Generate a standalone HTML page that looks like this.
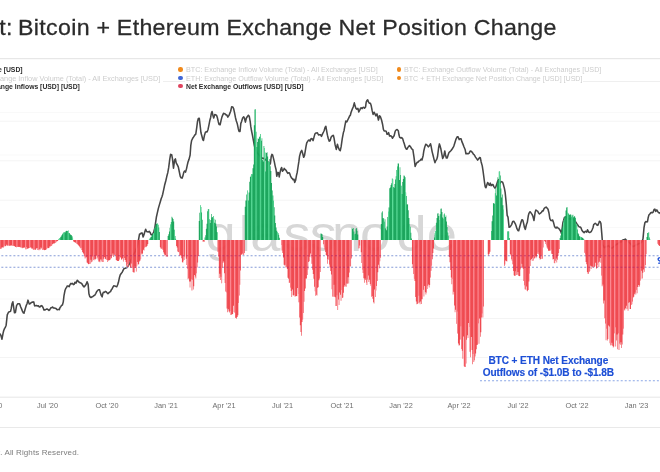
<!DOCTYPE html>
<html lang="en"><head><meta charset="utf-8"><title>Bitcoin + Ethereum Exchange Net Position Change</title>
<style>
html,body{margin:0;padding:0;background:#fff;}
body{width:660px;height:472px;position:relative;overflow:hidden;font-family:"Liberation Sans",sans-serif;}
#chart{position:absolute;left:0;top:0;width:660px;height:472px;overflow:visible;}
#wrap{position:absolute;left:-8px;top:-8px;width:676px;height:488px;overflow:hidden;filter:blur(0.55px);}
#in{position:absolute;left:8px;top:8px;width:660px;height:472px;}
.title{position:absolute;left:-2.2px;top:14.5px;font-size:22.4px;line-height:26px;color:#2b2b2b;white-space:nowrap;letter-spacing:0.3px;word-spacing:-0.15px;transform:scaleX(1.035);transform-origin:0 0;-webkit-text-stroke:0.28px #2b2b2b;}
.lg{position:absolute;font-size:7.2px;line-height:9px;white-space:nowrap;color:#cdcdcd;transform-origin:0 50%;}
.lg.on{color:#2b2b2b;font-weight:bold;transform:scaleX(0.947);}
.dot{position:absolute;width:4.4px;height:4.4px;border-radius:50%;}
.xl{position:absolute;top:400.4px;width:60px;text-align:center;font-size:7.35px;line-height:11px;color:#6e6e6e;white-space:nowrap;}
.note{position:absolute;left:468.3px;width:160px;text-align:center;font-size:10.1px;line-height:12px;font-weight:bold;color:#1d4fd6;white-space:nowrap;letter-spacing:-0.1px;-webkit-text-stroke:0.15px #1d4fd6;}
.note span{background:#fff;}
.foot{position:absolute;left:-2px;top:447.2px;font-size:8px;line-height:11px;color:#7c7c7c;white-space:nowrap;letter-spacing:0.1px;}
</style></head><body>
<div id="wrap"><div id="in">
<svg id="chart" width="660" height="472" viewBox="0 0 660 472">
<defs>
<clipPath id="hc"><path d="M-6.65,240.00V248.6H-6.00V248.7H-5.35V248.1H-4.70V248.8H-4.06V248.3H-3.41V248.6H-2.76V248.8H-2.11V248.4H-1.46V248.8H-0.82V248.5H-0.17V248.8H0.48V248.8H1.13V248.4H1.78V247.0H2.42V247.8H3.07V247.4H3.72V246.6H4.37V245.4H5.02V246.2H5.66V246.1H6.31V244.7H6.96V246.0H7.61V244.9H8.26V245.6H8.90V245.7H9.55V245.7H10.20V245.7H10.85V245.0H11.50V245.9H12.14V245.6H12.79V245.6H13.44V246.1H14.09V246.1H14.74V246.7H15.38V247.0H16.03V247.2H16.68V246.6H17.33V247.0H17.98V247.1H18.62V246.7H19.27V247.0H19.92V247.5H20.57V246.9H21.22V247.5H21.86V248.2H22.51V247.8H23.16V247.9H23.81V247.1H24.46V248.1H25.10V249.2H25.75V247.1H26.40V249.2H27.05V249.0H27.70V247.9H28.34V248.5H28.99V247.8H29.64V247.7H30.29V247.2H30.94V247.7H31.58V249.0H32.23V248.5H32.88V250.1H33.53V249.3H34.18V249.6H34.82V249.7H35.47V249.8H36.12V248.5H36.77V248.1H37.42V249.9H38.06V249.4H38.71V250.3H39.36V249.3H40.01V249.4H40.66V247.5H41.30V248.5H41.95V250.1H42.60V250.1H43.25V249.4H43.90V250.3H44.54V249.9H45.19V249.9H45.84V249.5H46.49V249.1H47.14V247.7H47.78V248.3H48.43V247.9H49.08V247.4H49.73V245.9H50.38V246.6H51.02V245.9H51.67V245.2H52.32V244.1H52.97V243.8H53.62V243.3H54.26V243.4H54.91V242.8H55.56V242.4H56.21V241.6H56.86V241.2H57.50V241.1H58.15V239.5H58.80V238.7H59.45V237.9H60.10V237.2H60.74V236.4H61.39V235.2H62.04V234.2H62.69V233.3H63.34V232.4H63.98V232.0H64.63V232.7H65.28V231.4H65.93V230.8H66.58V230.9H67.22V231.1H67.87V230.5H68.52V232.9H69.17V233.1H69.82V234.2H70.46V234.8H71.11V235.0H71.76V236.3H72.41V237.8H73.06V241.3H73.70V241.9H74.35V242.3H75.00V242.6H75.65V242.9H76.30V243.4H76.94V244.1H77.59V244.8H78.24V245.4H78.89V246.3H79.54V247.2H80.18V248.3H80.83V247.7H81.48V249.9H82.13V251.9H82.78V253.1H83.42V254.3H84.07V256.2H84.72V258.5H85.37V257.3H86.02V257.2H86.66V262.6H87.31V263.2H87.96V264.2H88.61V264.1H89.26V263.8H89.90V263.7H90.55V259.7H91.20V262.2H91.85V261.5H92.50V256.5H93.14V259.7H93.79V260.2H94.44V258.9H95.09V259.6H95.74V258.7H96.38V255.7H97.03V257.5H97.68V259.4H98.33V261.5H98.98V261.6H99.62V262.3H100.27V259.6H100.92V261.4H101.57V259.5H102.22V262.1H102.86V261.9H103.51V258.7H104.16V257.0H104.81V258.8H105.46V259.3H106.10V259.2H106.75V259.9H107.40V262.0H108.05V260.5H108.70V260.4H109.34V260.1H109.99V259.5H110.64V258.6H111.29V258.0H111.94V255.8H112.58V253.4H113.23V257.0H113.88V254.8H114.53V255.0H115.18V255.8H115.82V260.0H116.47V260.6H117.12V261.0H117.77V261.0H118.42V261.0H119.06V259.6H119.71V257.2H120.36V257.6H121.01V259.8H121.66V259.2H122.30V258.3H122.95V261.5H123.60V260.0H124.25V258.0H124.90V260.0H125.54V262.0H126.19V265.8H126.84V267.3H127.49V263.9H128.14V267.1H128.78V263.7H129.43V261.2H130.08V267.3H130.73V267.9H131.38V263.4H132.02V267.7H132.67V272.0H133.32V272.5H133.97V272.6H134.62V266.6H135.26V268.0H135.91V271.5H136.56V265.7H137.21V262.1H137.86V264.4H138.50V264.2H139.15V261.4H139.80V260.6H140.45V259.0H141.10V253.5H141.74V254.4H142.39V253.4H143.04V249.8H143.69V250.4H144.34V247.5H144.98V246.7H145.63V247.2H146.28V246.5H146.93V245.8H147.58V244.1H148.22V240.0H148.87V239.4H149.52V238.5H150.17V237.4H150.82V237.0H151.46V235.3H152.11V234.4H152.76V233.8H153.41V232.9H154.06V227.5H154.70V228.2H155.35V224.7H156.00V223.8H156.65V223.8H157.30V223.5H157.94V224.7H158.59V227.5H159.24V232.0H159.89V247.2H160.54V248.6H161.18V248.7H161.83V248.4H162.48V249.8H163.13V252.2H163.78V253.7H164.42V255.5H165.07V254.9H165.72V256.6H166.37V256.2H167.02V256.8H167.66V236.0H168.31V234.3H168.96V231.4H169.61V227.8H170.26V224.6H170.90V222.1H171.55V216.8H172.20V217.7H172.85V219.0H173.50V221.6H174.14V229.8H174.79V236.0H175.44V238.8H176.09V246.0H176.74V247.6H177.38V251.4H178.03V252.1H178.68V252.3H179.33V255.8H179.98V255.0H180.62V255.8H181.27V258.3H181.92V262.3H182.57V262.4H183.22V260.6H183.86V259.9H184.51V256.5H185.16V240.0H185.81V258.7H186.46V265.0H187.10V268.9H187.75V279.2H188.40V278.3H189.05V281.5H189.70V287.6H190.34V281.5H190.99V279.2H191.64V290.4H192.29V279.7H192.94V289.4H193.58V286.3H194.23V275.0H194.88V276.4H195.53V278.6H196.18V273.2H196.82V267.5H197.47V262.4H198.12V256.0H198.77V221.1H199.42V212.7H200.06V205.3H200.71V207.1H201.36V212.5H202.01V219.8H202.66V241.7H203.30V241.5H203.95V241.7H204.60V237.4H205.25V235.2H205.90V228.7H206.54V223.7H207.19V211.2H207.84V209.3H208.49V209.0H209.14V219.3H209.78V222.9H210.43V219.9H211.08V213.9H211.73V217.6H212.38V216.9H213.02V216.1H213.67V218.8H214.32V222.8H214.97V219.8H215.62V223.5H216.26V226.5H216.91V232.3H217.56V251.7H218.21V256.4H218.86V278.1H219.50V273.8H220.15V279.9H220.80V276.7H221.45V283.2H222.10V267.8H222.74V263.1H223.39V261.5H224.04V273.3H224.69V283.1H225.34V291.5H225.98V292.2H226.63V308.4H227.28V312.2H227.93V309.3H228.58V311.6H229.22V312.5H229.87V311.0H230.52V315.1H231.17V314.8H231.82V313.9H232.46V314.3H233.11V305.8H233.76V311.9H234.41V312.5H235.06V318.0H235.70V317.6H236.35V318.8H237.00V317.1H237.65V315.3H238.30V303.1H238.94V295.4H239.59V284.8H240.24V270.5H240.89V254.7H241.54V254.5H242.18V253.4H242.83V254.8H243.48V254.7H244.13V252.9H244.78V206.7H245.42V200.5H246.07V194.5H246.72V200.5H247.37V190.4H248.02V200.4H248.66V192.4H249.31V181.8H249.96V176.9H250.61V175.7H251.26V174.1H251.90V174.3H252.55V168.2H253.20V164.4H253.85V125.3H254.50V109.5H255.14V109.2H255.79V131.8H256.44V146.9H257.09V142.1H257.74V138.2H258.38V139.0H259.03V136.7H259.68V136.8H260.33V134.1H260.98V140.7H261.62V138.3H262.27V159.9H262.92V161.4H263.57V146.0H264.22V148.0H264.86V171.4H265.51V152.5H266.16V153.0H266.81V152.3H267.46V156.5H268.10V161.8H268.75V162.1H269.40V159.1H270.05V166.3H270.70V171.1H271.34V183.1H271.99V190.5H272.64V195.5H273.29V200.7H273.94V207.2H274.58V215.4H275.23V222.9H275.88V227.6H276.53V230.8H277.18V232.3H277.82V232.9H278.47V234.7H279.12V237.7H279.77V240.0H280.42V240.0H281.06V244.8H281.71V250.4H282.36V253.1H283.01V257.4H283.66V264.8H284.30V265.5H284.95V264.7H285.60V267.6H286.25V266.8H286.90V269.1H287.54V277.8H288.19V278.7H288.84V282.9H289.49V282.5H290.14V287.5H290.78V290.9H291.43V297.0H292.08V289.6H292.73V295.2H293.38V295.4H294.02V294.7H294.67V296.6H295.32V296.3H295.97V296.0H296.62V296.3H297.26V288.1H297.91V293.8H298.56V302.2H299.21V317.4H299.86V325.3H300.50V332.1H301.15V335.7H301.80V322.0H302.45V319.4H303.10V312.9H303.74V301.7H304.39V290.9H305.04V288.6H305.69V278.6H306.34V278.6H306.98V274.9H307.63V269.6H308.28V261.9H308.93V261.3H309.58V256.7H310.22V253.4H310.87V257.4H311.52V263.7H312.17V269.7H312.82V274.1H313.46V278.8H314.11V286.8H314.76V291.3H315.41V295.7H316.06V294.7H316.70V295.4H317.35V287.8H318.00V287.3H318.65V280.3H319.30V278.6H319.94V272.0H320.59V233.4H321.24V233.7H321.89V234.3H322.54V237.1H323.18V244.2H323.83V246.8H324.48V249.5H325.13V252.1H325.78V255.1H326.42V255.8H327.07V263.8H327.72V259.0H328.37V259.6H329.02V264.5H329.66V267.4H330.31V270.9H330.96V274.4H331.61V289.3H332.26V296.5H332.90V296.7H333.55V284.7H334.20V296.7H334.85V297.2H335.50V306.0H336.14V305.9H336.79V295.2H337.44V309.9H338.09V299.4H338.74V305.0H339.38V292.6H340.03V294.7H340.68V300.7H341.33V289.9H341.98V298.0H342.62V297.4H343.27V292.8H343.92V286.8H344.57V285.2H345.22V286.2H345.86V286.8H346.51V283.6H347.16V283.7H347.81V277.3H348.46V283.5H349.10V272.6H349.75V266.0H350.40V266.6H351.05V258.5H351.70V227.8H352.34V228.9H352.99V228.1H353.64V231.5H354.29V234.4H354.94V233.7H355.58V228.7H356.23V227.9H356.88V230.7H357.53V234.5H358.18V248.2H358.82V248.2H359.47V245.5H360.12V240.0H360.77V252.3H361.42V262.9H362.06V269.5H362.71V273.0H363.36V278.3H364.01V282.7H364.66V278.4H365.30V280.0H365.95V282.4H366.60V285.0H367.25V279.5H367.90V275.5H368.54V281.9H369.19V279.7H369.84V283.9H370.49V285.7H371.14V296.8H371.78V295.9H372.43V298.7H373.08V302.2H373.73V303.5H374.38V289.6H375.02V297.1H375.67V290.4H376.32V286.1H376.97V281.0H377.62V272.2H378.26V264.8H378.91V268.3H379.56V261.3H380.21V257.7H380.86V224.1H381.50V212.4H382.15V211.3H382.80V218.2H383.45V218.2H384.10V221.8H384.74V219.2H385.39V228.5H386.04V230.3H386.69V226.6H387.34V217.0H387.98V211.8H388.63V207.5H389.28V188.3H389.93V187.4H390.58V184.9H391.22V183.3H391.87V178.4H392.52V179.3H393.17V187.0H393.82V187.8H394.46V184.1H395.11V179.4H395.76V176.2H396.41V169.9H397.06V166.5H397.70V163.4H398.35V163.6H399.00V180.1H399.65V167.3H400.30V174.9H400.94V185.8H401.59V193.9H402.24V182.0H402.89V178.9H403.54V175.5H404.18V175.8H404.83V177.2H405.48V192.4H406.13V195.9H406.78V204.5H407.42V204.3H408.07V210.3H408.72V218.0H409.37V224.4H410.02V226.8H410.66V232.8H411.31V238.6H411.96V264.2H412.61V267.8H413.26V274.1H413.90V278.7H414.55V281.0H415.20V297.1H415.85V301.5H416.50V304.2H417.14V303.9H417.79V303.2H418.44V295.4H419.09V302.5H419.74V304.3H420.38V301.6H421.03V304.1H421.68V299.2H422.33V298.5H422.98V289.8H423.62V296.6H424.27V286.0H424.92V292.2H425.57V294.6H426.22V292.4H426.86V289.0H427.51V285.7H428.16V284.4H428.81V287.6H429.46V285.0H430.10V277.6H430.75V270.8H431.40V265.5H432.05V259.2H432.70V253.0H433.34V248.5H433.99V237.6H434.64V233.3H435.29V231.0H435.94V222.8H436.58V218.0H437.23V213.4H437.88V213.2H438.53V215.9H439.18V220.2H439.82V214.2H440.47V208.7H441.12V208.6H441.77V211.9H442.42V217.6H443.06V218.7H443.71V214.4H444.36V213.5H445.01V216.9H445.66V215.5H446.30V221.4H446.95V227.0H447.60V232.4H448.25V236.3H448.90V257.0H449.54V262.2H450.19V269.9H450.84V277.5H451.49V284.2H452.14V278.7H452.78V294.4H453.43V291.8H454.08V305.6H454.73V312.3H455.38V309.8H456.02V323.8H456.67V311.5H457.32V333.5H457.97V343.6H458.62V345.4H459.26V345.2H459.91V339.5H460.56V326.2H461.21V348.9H461.86V350.7H462.50V358.7H463.15V336.6H463.80V366.3H464.45V367.0H465.10V366.9H465.74V363.4H466.39V339.8H467.04V335.2H467.69V338.0H468.34V322.9H468.98V327.1H469.63V351.8H470.28V357.2H470.93V336.9H471.58V350.0H472.22V364.3H472.87V354.0H473.52V361.9H474.17V360.3H474.82V356.6H475.46V353.4H476.11V349.2H476.76V345.1H477.41V344.4H478.06V323.2H478.70V343.8H479.35V318.6H480.00V336.8H480.65V332.3H481.30V317.5H481.94V313.2H482.59V317.6H483.24V306.5H483.89V240.0H484.54V240.0H485.18V240.0H485.83V240.0H486.48V240.0H487.13V240.0H487.78V254.2H488.42V255.6H489.07V253.7H489.72V251.8H490.37V240.0H491.02V230.9H491.66V221.2H492.31V215.5H492.96V202.9H493.61V203.4H494.26V203.8H494.90V193.3H495.55V187.9H496.20V195.4H496.85V183.7H497.50V177.3H498.14V179.9H498.79V171.4H499.44V171.6H500.09V175.4H500.74V188.6H501.38V197.6H502.03V194.5H502.68V205.2H503.33V209.7H503.98V266.0H504.62V264.5H505.27V260.5H505.92V260.9H506.57V261.6H507.22V231.5H507.86V231.3H508.51V231.4H509.16V238.1H509.81V253.9H510.46V255.5H511.10V259.3H511.75V260.8H512.40V264.3H513.05V270.9H513.70V275.2H514.34V275.9H514.99V275.7H515.64V271.3H516.29V274.9H516.94V274.7H517.58V272.1H518.23V275.8H518.88V276.3H519.53V276.0H520.18V269.3H520.82V267.2H521.47V263.8H522.12V267.7H522.77V268.7H523.42V281.0H524.06V285.3H524.71V289.3H525.36V289.6H526.01V286.4H526.66V290.4H527.30V291.2H527.95V290.0H528.60V281.5H529.25V273.5H529.90V265.9H530.54V260.1H531.19V259.0H531.84V260.9H532.49V257.7H533.14V260.4H533.78V258.4H534.43V258.2H535.08V256.5H535.73V258.2H536.38V256.4H537.02V253.7H537.67V252.2H538.32V254.2H538.97V257.9H539.62V259.5H540.26V259.2H540.91V255.2H541.56V258.9H542.21V258.5H542.86V247.4H543.50V240.0H544.15V241.0H544.80V242.0H545.45V243.9H546.10V245.3H546.74V247.5H547.39V248.7H548.04V250.8H548.69V250.7H549.34V250.7H549.98V250.6H550.63V249.6H551.28V253.8H551.93V253.9H552.58V259.6H553.22V258.9H553.87V262.9H554.52V263.3H555.17V260.7H555.82V258.6H556.46V262.5H557.11V259.8H557.76V256.0H558.41V253.1H559.06V249.0H559.70V237.9H560.35V235.6H561.00V231.9H561.65V228.6H562.30V226.4H562.94V222.8H563.59V220.2H564.24V217.3H564.89V216.0H565.54V210.4H566.18V207.5H566.83V207.2H567.48V212.8H568.13V213.4H568.78V214.3H569.42V215.0H570.07V214.2H570.72V214.8H571.37V216.7H572.02V215.6H572.66V214.8H573.31V217.2H573.96V216.1H574.61V216.7H575.26V217.9H575.90V224.5H576.55V223.7H577.20V229.5H577.85V233.2H578.50V234.2H579.14V235.9H579.79V237.0H580.44V236.8H581.09V237.1H581.74V237.7H582.38V237.8H583.03V238.5H583.68V239.5H584.33V252.7H584.98V254.6H585.62V262.1H586.27V264.2H586.92V271.9H587.57V273.7H588.22V273.8H588.86V272.1H589.51V271.1H590.16V265.8H590.81V269.1H591.46V266.3H592.10V267.1H592.75V266.3H593.40V267.5H594.05V267.1H594.70V266.3H595.34V262.7H595.99V268.7H596.64V267.7H597.29V264.8H597.94V262.5H598.58V267.0H599.23V261.8H599.88V258.0H600.53V262.8H601.18V275.5H601.82V286.2H602.47V284.6H603.12V303.6H603.77V300.6H604.42V318.2H605.06V323.5H605.71V340.2H606.36V328.4H607.01V340.6H607.66V339.1H608.30V325.4H608.95V326.6H609.60V343.3H610.25V345.2H610.90V345.3H611.54V342.8H612.19V345.7H612.84V347.4H613.49V346.6H614.14V333.2H614.78V327.2H615.43V346.6H616.08V340.6H616.73V334.6H617.38V349.3H618.02V333.3H618.67V350.1H619.32V343.4H619.97V344.8H620.62V342.3H621.26V348.1H621.91V344.6H622.56V334.4H623.21V328.6H623.86V309.6H624.50V310.6H625.15V308.3H625.80V309.3H626.45V305.7H627.10V308.5H627.74V310.7H628.39V302.8H629.04V302.2H629.69V308.9H630.34V308.9H630.98V304.7H631.63V304.3H632.28V301.6H632.93V297.4H633.58V296.8H634.22V294.2H634.87V292.6H635.52V294.4H636.17V289.8H636.82V293.3H637.46V286.9H638.11V285.0H638.76V286.9H639.41V285.5H640.06V280.6H640.70V278.7H641.35V270.8H642.00V278.6H642.65V272.8H643.30V269.6H643.94V271.8H644.59V267.2H645.24V265.0H645.89V254.2H646.54V237.1H647.18V233.1H647.83V232.9H648.48V232.2H649.13V237.4H649.78V239.4H650.42V240.0H651.07V240.0H651.72V240.0H652.37V240.0H653.02V240.0H653.66V240.0H654.31V240.0H654.96V240.0H655.61V240.0H656.26V240.0H656.90V240.0H657.55V243.7H658.20V244.9H658.85V245.7H659.50V246.0H660.14V246.2H660.79V246.4H661.44V245.3H662.09V246.3H662.74V245.8H663.38V247.3H664.03V246.6H664.68V247.7H665.33V247.4H665.98V247.2H666.62V247.6H667.27V240.00Z"/></clipPath>
<linearGradient id="gr" gradientUnits="userSpaceOnUse" x1="0" y1="0" x2="0" y2="480">
<stop offset="0" stop-color="#14a357" stop-opacity="0.96"/><stop offset="0.50000" stop-color="#14a357" stop-opacity="0.96"/>
<stop offset="0.50000" stop-color="#ee3d44" stop-opacity="0.93"/><stop offset="1" stop-color="#ee3d44" stop-opacity="0.93"/>
</linearGradient>
<clipPath id="up"><rect x="-8" y="0" width="676" height="240.0"/></clipPath>
<clipPath id="dn"><rect x="-8" y="240.0" width="676" height="240"/></clipPath>
<pattern id="st" x="-0.7" y="0" width="4.27" height="480" patternUnits="userSpaceOnUse"><rect x="0" y="0" width="1.15" height="240.0" fill="#66e6a3" fill-opacity="0.9"/><rect x="0" y="240.0" width="1.15" height="240" fill="#ff97a1" fill-opacity="0.92"/></pattern>
</defs>
<rect x="-8" y="-8" width="676" height="488" fill="#fff"/>
<line x1="-8" x2="668" y1="58.7" y2="58.7" stroke="#e2e2e2" stroke-width="1"/>
<line x1="-8" x2="668" y1="121.2" y2="121.2" stroke="#f4f4f4" stroke-width="1"/><line x1="-8" x2="668" y1="160.8" y2="160.8" stroke="#f4f4f4" stroke-width="1"/><line x1="-8" x2="668" y1="200.2" y2="200.2" stroke="#f4f4f4" stroke-width="1"/><line x1="-8" x2="668" y1="279.5" y2="279.5" stroke="#f4f4f4" stroke-width="1"/><line x1="-8" x2="668" y1="318.5" y2="318.5" stroke="#f4f4f4" stroke-width="1"/><line x1="-8" x2="668" y1="357.5" y2="357.5" stroke="#f4f4f4" stroke-width="1"/><line x1="-8" x2="668" y1="112.5" y2="112.5" stroke="#f9f9f9" stroke-width="1"/><line x1="-8" x2="668" y1="155" y2="155" stroke="#f9f9f9" stroke-width="1"/><line x1="-8" x2="668" y1="227.5" y2="227.5" stroke="#f9f9f9" stroke-width="1"/><line x1="-8" x2="668" y1="299" y2="299" stroke="#f9f9f9" stroke-width="1"/>
<path d="M163,81.5H185M583,81.5H668" stroke="#efefef" stroke-width="1" fill="none"/>
<line x1="-8" x2="668" y1="397.2" y2="397.2" stroke="#e6e6e6" stroke-width="1"/>
<line x1="-8" x2="668" y1="427.5" y2="427.5" stroke="#e9e9e9" stroke-width="1"/>
<text transform="translate(205.5,250.5) scale(1.085,1)" x="0 30.6 41.2 71.8 96.2 116.5 142.5 176 204" font-family="Liberation Sans, sans-serif" font-size="50" fill="#d7d7d7">glassnode</text>
<path d="M-6.00,341.30 L-5.08,340.20 L-4.12,339.18 L-3.45,337.68 L-2.37,336.48 L-1.62,336.21 L-0.73,334.87 L0.16,333.99 L0.87,335.31 L1.97,339.19 L3.00,333.65 L3.66,330.74 L4.61,328.38 L5.26,327.56 L6.14,325.20 L7.25,314.90 L8.37,312.45 L9.44,311.72 L10.57,311.38 L11.25,308.43 L12.00,303.80 L12.87,301.75 L13.66,307.27 L14.50,312.80 L15.44,312.46 L16.56,305.56 L17.69,303.87 L18.86,303.68 L19.58,303.66 L20.73,306.96 L21.66,309.13 L22.41,311.11 L23.35,312.90 L24.01,313.13 L25.18,308.96 L26.24,305.45 L26.95,304.01 L28.00,300.13 L28.65,302.22 L29.30,304.02 L30.11,303.68 L31.27,302.67 L32.44,302.01 L33.11,302.30 L33.76,301.90 L34.61,305.85 L35.32,305.69 L36.42,305.41 L37.57,305.99 L38.41,305.82 L39.32,306.92 L40.27,306.70 L41.23,305.64 L42.14,305.99 L43.16,307.86 L43.95,310.08 L44.86,309.88 L45.50,309.75 L46.44,309.01 L47.40,309.14 L48.06,309.59 L48.95,310.35 L49.77,309.75 L50.79,307.73 L51.46,307.78 L52.61,306.99 L53.48,307.94 L54.29,308.10 L55.09,308.30 L56.04,308.52 L56.87,309.57 L57.51,309.82 L58.54,309.36 L59.29,309.63 L60.05,307.46 L60.92,306.40 L61.60,305.34 L62.41,304.94 L63.28,301.87 L64.00,295.53 L64.98,290.50 L65.85,288.23 L66.55,287.55 L67.28,285.93 L68.37,286.10 L69.15,286.67 L70.12,284.53 L70.94,283.35 L71.73,283.85 L72.50,283.41 L73.36,284.64 L74.21,284.24 L74.92,282.21 L76.06,283.09 L77.23,280.26 L78.37,281.34 L79.12,282.26 L80.20,282.72 L81.11,283.10 L81.93,283.86 L82.59,285.01 L83.38,286.24 L84.03,286.88 L85.04,285.90 L86.15,284.28 L87.09,281.71 L88.12,284.38 L88.92,293.80 L89.83,296.71 L90.97,297.51 L91.78,296.99 L92.88,296.59 L93.93,295.41 L94.67,295.45 L95.74,293.58 L96.79,291.43 L97.86,290.26 L98.49,289.73 L99.59,289.85 L100.37,292.62 L101.28,295.43 L102.17,296.83 L102.80,293.49 L103.49,292.19 L104.16,292.56 L105.25,291.41 L106.15,291.78 L106.95,292.77 L107.93,293.66 L108.76,292.85 L109.57,292.20 L110.50,291.59 L111.33,289.86 L112.06,288.96 L113.01,286.98 L113.85,285.79 L114.82,285.90 L115.65,286.38 L116.66,286.81 L117.66,284.78 L118.42,282.35 L119.43,277.54 L120.29,274.79 L121.39,273.19 L122.23,272.32 L123.28,269.84 L124.16,268.51 L125.23,268.19 L126.34,267.80 L127.33,267.26 L128.27,265.89 L129.21,264.05 L129.92,262.53 L130.58,260.33 L131.26,259.61 L131.99,257.15 L133.07,254.98 L134.16,253.36 L135.24,251.38 L136.18,248.97 L136.83,247.38 L137.74,244.31 L138.42,240.27 L139.56,233.90 L140.36,233.90 L141.44,232.91 L142.17,233.04 L143.13,236.96 L143.97,234.75 L144.82,231.79 L145.67,229.35 L146.57,231.52 L147.43,231.86 L148.14,232.02 L149.18,231.32 L150.09,232.43 L151.07,234.57 L151.78,234.81 L152.81,234.15 L153.72,232.01 L154.74,228.27 L155.51,223.10 L156.46,216.73 L157.22,213.42 L158.36,208.36 L159.37,204.86 L160.46,201.22 L161.24,198.58 L161.88,196.97 L162.72,194.20 L163.54,190.41 L164.59,185.29 L165.75,180.97 L166.71,176.81 L167.79,172.64 L168.72,167.44 L169.74,159.32 L170.58,154.38 L171.73,154.82 L172.49,158.92 L173.50,168.25 L174.65,159.92 L175.41,158.87 L176.18,162.80 L177.19,164.73 L178.31,166.80 L179.41,172.27 L180.26,176.44 L180.94,177.70 L182.02,178.16 L182.84,176.14 L183.84,172.13 L184.65,170.96 L185.54,172.16 L186.49,168.86 L187.33,164.86 L188.02,162.01 L189.01,159.37 L190.12,154.97 L190.80,145.44 L191.64,140.47 L192.67,138.31 L193.67,136.90 L194.73,135.13 L195.77,134.12 L196.77,127.33 L197.46,121.80 L198.28,118.61 L199.27,118.30 L200.00,124.32 L200.97,132.81 L202.08,136.72 L202.78,139.64 L203.49,140.45 L204.50,135.15 L205.43,132.14 L206.31,131.80 L207.04,131.93 L208.05,129.43 L208.98,124.94 L209.80,120.53 L210.64,117.49 L211.29,113.60 L212.05,111.49 L212.88,115.15 L213.72,117.90 L214.77,114.46 L215.86,114.91 L216.63,115.44 L217.32,117.48 L218.35,121.92 L219.08,124.45 L220.11,124.71 L221.14,120.07 L221.85,117.33 L222.59,115.39 L223.52,113.31 L224.29,113.70 L224.94,113.78 L226.05,114.89 L226.88,115.10 L227.83,117.09 L228.99,115.41 L229.78,113.38 L230.67,111.22 L231.69,106.68 L232.74,106.91 L233.63,108.54 L234.51,112.59 L235.43,117.44 L236.33,120.94 L237.20,123.43 L238.35,128.95 L239.05,131.37 L240.02,131.42 L240.84,123.38 L241.51,121.69 L242.64,118.08 L243.75,116.79 L244.45,118.26 L245.40,122.19 L246.42,118.00 L247.23,116.80 L248.37,115.24 L249.23,116.25 L250.13,121.02 L250.78,126.39 L251.52,130.77 L252.42,135.20 L253.34,140.20 L254.32,145.43 L255.20,148.97 L256.04,150.16 L257.16,152.87 L257.99,153.63 L258.90,155.07 L259.65,155.43 L260.40,156.95 L261.10,157.34 L261.84,157.83 L262.56,158.39 L263.28,158.25 L263.97,158.62 L264.87,158.90 L265.51,159.72 L266.36,160.54 L267.02,160.68 L267.86,161.86 L269.01,164.08 L269.69,164.76 L270.41,163.30 L271.23,156.41 L271.89,154.39 L272.67,155.17 L273.55,158.68 L274.34,161.94 L275.11,165.86 L276.08,169.71 L276.76,176.28 L277.92,172.38 L278.55,172.90 L279.23,176.94 L279.88,173.18 L280.86,169.09 L281.60,167.55 L282.49,171.20 L283.61,170.05 L284.26,168.39 L285.22,169.64 L285.90,170.13 L286.98,172.01 L287.83,173.36 L288.82,172.70 L289.55,173.23 L290.57,176.03 L291.50,177.87 L292.33,178.62 L293.08,179.77 L293.97,179.26 L294.69,182.45 L295.65,180.24 L296.49,175.35 L297.20,172.46 L297.84,168.25 L298.88,161.47 L299.57,156.16 L300.65,152.20 L301.76,150.43 L302.63,153.22 L303.65,157.26 L304.48,155.74 L305.33,150.68 L306.02,146.38 L306.71,142.98 L307.69,141.31 L308.34,140.33 L309.32,140.11 L309.96,141.11 L311.11,138.63 L312.04,138.65 L313.10,140.66 L314.15,136.64 L314.88,134.10 L315.56,133.30 L316.25,132.99 L317.40,132.77 L318.51,135.00 L319.39,134.75 L320.47,134.72 L321.45,136.37 L322.55,133.88 L323.50,131.98 L324.19,130.47 L325.14,127.21 L325.89,126.32 L326.77,131.64 L327.44,135.16 L328.33,138.74 L329.26,141.16 L330.12,140.56 L331.07,137.25 L331.89,136.18 L332.70,135.61 L333.38,135.40 L334.10,138.42 L335.12,144.89 L336.28,149.38 L337.42,144.27 L338.27,147.37 L339.39,149.82 L340.28,150.65 L341.13,146.64 L342.26,138.72 L343.39,132.64 L344.07,130.46 L344.86,125.99 L345.84,120.97 L346.87,121.85 L347.73,120.00 L348.77,117.94 L349.55,116.12 L350.34,115.24 L351.01,112.45 L352.06,109.67 L353.21,106.95 L354.32,102.83 L355.03,105.86 L355.91,108.35 L356.84,109.23 L357.93,108.38 L358.81,111.95 L359.87,109.89 L360.63,108.08 L361.27,107.72 L362.19,108.59 L362.90,107.41 L363.65,107.38 L364.53,108.13 L365.58,106.92 L366.23,101.96 L366.87,100.56 L367.68,99.76 L368.60,102.12 L369.40,103.22 L370.47,103.39 L371.24,105.81 L372.10,110.43 L373.09,114.43 L374.16,112.23 L374.86,113.63 L375.92,115.90 L377.00,113.92 L377.78,117.06 L378.42,120.10 L379.53,115.80 L380.41,116.65 L381.55,119.97 L382.50,123.97 L383.41,129.45 L384.14,131.00 L385.31,131.03 L386.16,131.15 L387.03,134.33 L387.91,133.96 L388.62,132.64 L389.53,135.99 L390.62,135.66 L391.75,136.79 L392.40,138.25 L393.33,136.78 L394.11,135.75 L395.23,131.11 L396.22,129.86 L397.13,129.52 L398.28,130.70 L399.01,135.06 L399.74,137.41 L400.82,138.02 L401.60,137.60 L402.74,138.86 L403.58,141.66 L404.28,143.81 L405.44,147.66 L406.19,148.94 L406.86,149.27 L407.90,147.37 L408.87,146.17 L409.50,145.63 L410.65,146.90 L411.42,148.44 L412.20,149.27 L412.85,149.62 L414.00,157.07 L415.12,166.40 L416.29,163.66 L417.27,162.32 L417.92,162.39 L418.65,161.13 L419.72,160.73 L420.38,160.10 L421.30,159.06 L421.99,160.05 L423.15,155.46 L423.85,150.69 L424.55,147.85 L425.67,144.38 L426.41,144.51 L427.58,145.84 L428.34,146.81 L429.48,145.72 L430.49,143.73 L431.13,146.28 L432.17,151.84 L433.10,155.55 L434.02,159.34 L434.94,162.65 L435.68,160.82 L436.82,159.16 L437.54,156.50 L438.63,147.74 L439.40,143.89 L440.06,145.83 L440.91,149.03 L441.60,152.82 L442.70,158.51 L443.87,155.83 L444.78,150.95 L445.46,154.72 L446.33,157.97 L447.28,157.86 L448.19,154.84 L448.99,152.53 L449.94,151.70 L451.08,150.51 L452.16,149.02 L453.32,147.08 L454.01,145.57 L455.04,142.16 L456.02,139.06 L457.17,136.84 L458.06,136.67 L459.16,139.58 L460.07,138.78 L461.04,138.75 L461.90,141.66 L462.95,144.13 L464.04,147.06 L465.20,149.82 L465.94,153.83 L467.05,153.49 L468.15,153.70 L468.98,153.35 L469.88,151.52 L470.71,151.00 L471.81,151.77 L472.52,152.73 L473.35,154.18 L474.06,154.56 L474.86,155.91 L475.51,157.09 L476.63,158.63 L477.66,160.12 L478.74,158.85 L479.61,157.42 L480.31,157.64 L481.14,161.94 L482.25,165.85 L482.99,170.65 L483.94,177.73 L484.58,182.76 L485.22,186.78 L485.95,187.75 L486.79,185.00 L487.65,182.44 L488.64,184.20 L489.32,185.31 L490.32,183.17 L491.19,185.63 L492.36,184.63 L492.99,184.60 L493.85,186.62 L494.93,188.15 L495.78,187.09 L496.89,183.73 L497.73,181.01 L498.71,179.56 L499.84,183.35 L500.78,182.23 L501.54,181.65 L502.63,182.17 L503.41,184.58 L504.40,188.33 L505.14,192.45 L506.26,203.48 L507.17,215.38 L508.00,217.18 L509.12,227.31 L510.15,226.84 L510.81,225.85 L511.61,224.62 L512.71,221.51 L513.78,221.26 L514.48,222.33 L515.32,223.84 L516.05,225.75 L516.95,228.68 L518.04,230.75 L518.70,230.73 L519.54,227.47 L520.31,224.72 L521.31,221.28 L522.00,219.68 L522.87,220.42 L523.63,223.38 L524.38,227.08 L525.34,229.33 L526.37,224.78 L527.29,222.33 L528.26,216.06 L528.92,213.41 L530.02,211.73 L530.96,212.84 L532.08,214.35 L532.83,216.09 L533.99,220.46 L535.16,212.26 L535.88,210.02 L536.70,210.62 L537.64,211.09 L538.56,213.03 L539.44,213.92 L540.54,213.14 L541.44,212.29 L542.51,210.78 L543.19,210.86 L544.12,208.57 L545.23,207.43 L546.15,207.14 L547.24,208.29 L548.02,209.24 L549.02,213.25 L549.84,218.71 L550.77,220.43 L551.78,220.61 L552.62,219.95 L553.55,222.58 L554.57,226.60 L555.41,227.67 L556.26,227.97 L556.95,227.08 L557.84,227.86 L558.74,228.41 L559.43,229.21 L560.56,230.96 L561.47,233.56 L562.13,228.81 L562.93,222.40 L563.62,220.23 L564.51,217.17 L565.28,217.15 L566.01,217.15 L566.92,217.27 L567.67,218.54 L568.73,218.99 L569.84,218.85 L570.85,219.23 L571.61,218.73 L572.76,218.98 L573.80,219.66 L574.79,220.62 L575.70,221.85 L576.80,223.63 L577.70,224.92 L578.56,226.28 L579.33,226.98 L580.28,227.09 L580.93,227.69 L581.91,230.32 L582.95,231.65 L584.09,232.63 L585.12,231.44 L585.77,231.33 L586.80,232.10 L587.54,229.76 L588.70,232.06 L589.59,232.50 L590.30,232.19 L591.29,231.52 L592.01,229.98 L592.98,227.72 L593.68,224.57 L594.36,223.95 L595.20,223.21 L596.37,224.30 L597.14,225.16 L597.77,225.37 L598.78,223.10 L599.42,221.35 L600.23,221.80 L600.92,223.47 L601.76,233.39 L602.63,244.52 L603.43,245.94 L604.31,247.69 L605.12,247.19 L605.98,246.63 L606.78,246.71 L607.70,246.28 L608.49,245.58 L609.13,246.32 L609.87,247.04 L610.64,247.75 L611.60,248.28 L612.62,247.77 L613.49,246.81 L614.15,246.71 L615.05,245.23 L616.18,244.73 L617.15,243.83 L617.84,243.99 L618.57,242.94 L619.73,242.03 L620.63,241.87 L621.40,241.86 L622.25,240.38 L623.14,239.78 L624.15,239.97 L625.27,239.05 L626.26,240.13 L627.15,240.86 L627.94,241.36 L628.91,242.18 L630.06,243.29 L631.21,244.58 L631.89,245.81 L632.80,246.75 L633.71,246.20 L634.38,245.91 L635.29,245.74 L635.92,244.53 L636.92,244.89 L637.78,244.25 L638.71,243.62 L639.59,243.54 L640.24,243.03 L641.27,242.64 L642.15,241.08 L642.97,239.07 L644.01,227.67 L644.89,222.76 L645.70,221.58 L646.46,221.89 L647.42,221.78 L648.15,217.80 L648.88,215.10 L649.65,214.18 L650.58,212.98 L651.44,212.40 L652.47,212.68 L653.30,211.84 L654.07,209.40 L654.83,209.14 L655.78,211.35 L656.81,209.91 L657.85,211.74 L658.69,212.76 L659.55,212.85 L660.39,213.55 L661.41,213.99 L662.14,214.09 L663.21,214.09 L664.36,213.71 L665.41,214.64" fill="none" stroke="#464646" stroke-width="1.55" stroke-linejoin="round" stroke-linecap="round"/>
<line x1="-8" x2="668" y1="255.8" y2="255.8" stroke="#869cd8" stroke-width="1.1" stroke-dasharray="2 2.02" stroke-dashoffset="-1.3"/>
<line x1="-8" x2="668" y1="267.3" y2="267.3" stroke="#869cd8" stroke-width="1.1" stroke-dasharray="2 2.02" stroke-dashoffset="-1.3"/>
<path d="M-6.65,240.00V248.6H-6.00V248.7H-5.35V248.1H-4.70V248.8H-4.06V248.3H-3.41V248.6H-2.76V248.8H-2.11V248.4H-1.46V248.8H-0.82V248.5H-0.17V248.8H0.48V248.8H1.13V248.4H1.78V247.0H2.42V247.8H3.07V247.4H3.72V246.6H4.37V245.4H5.02V246.2H5.66V246.1H6.31V244.7H6.96V246.0H7.61V244.9H8.26V245.6H8.90V245.7H9.55V245.7H10.20V245.7H10.85V245.0H11.50V245.9H12.14V245.6H12.79V245.6H13.44V246.1H14.09V246.1H14.74V246.7H15.38V247.0H16.03V247.2H16.68V246.6H17.33V247.0H17.98V247.1H18.62V246.7H19.27V247.0H19.92V247.5H20.57V246.9H21.22V247.5H21.86V248.2H22.51V247.8H23.16V247.9H23.81V247.1H24.46V248.1H25.10V249.2H25.75V247.1H26.40V249.2H27.05V249.0H27.70V247.9H28.34V248.5H28.99V247.8H29.64V247.7H30.29V247.2H30.94V247.7H31.58V249.0H32.23V248.5H32.88V250.1H33.53V249.3H34.18V249.6H34.82V249.7H35.47V249.8H36.12V248.5H36.77V248.1H37.42V249.9H38.06V249.4H38.71V250.3H39.36V249.3H40.01V249.4H40.66V247.5H41.30V248.5H41.95V250.1H42.60V250.1H43.25V249.4H43.90V250.3H44.54V249.9H45.19V249.9H45.84V249.5H46.49V249.1H47.14V247.7H47.78V248.3H48.43V247.9H49.08V247.4H49.73V245.9H50.38V246.6H51.02V245.9H51.67V245.2H52.32V244.1H52.97V243.8H53.62V243.3H54.26V243.4H54.91V242.8H55.56V242.4H56.21V241.6H56.86V241.2H57.50V241.1H58.15V239.5H58.80V238.7H59.45V237.9H60.10V237.2H60.74V236.4H61.39V235.2H62.04V234.2H62.69V233.3H63.34V232.4H63.98V232.0H64.63V232.7H65.28V231.4H65.93V230.8H66.58V230.9H67.22V231.1H67.87V230.5H68.52V232.9H69.17V233.1H69.82V234.2H70.46V234.8H71.11V235.0H71.76V236.3H72.41V237.8H73.06V241.3H73.70V241.9H74.35V242.3H75.00V242.6H75.65V242.9H76.30V243.4H76.94V244.1H77.59V244.8H78.24V245.4H78.89V246.3H79.54V247.2H80.18V248.3H80.83V247.7H81.48V249.9H82.13V251.9H82.78V253.1H83.42V254.3H84.07V256.2H84.72V258.5H85.37V257.3H86.02V257.2H86.66V262.6H87.31V263.2H87.96V264.2H88.61V264.1H89.26V263.8H89.90V263.7H90.55V259.7H91.20V262.2H91.85V261.5H92.50V256.5H93.14V259.7H93.79V260.2H94.44V258.9H95.09V259.6H95.74V258.7H96.38V255.7H97.03V257.5H97.68V259.4H98.33V261.5H98.98V261.6H99.62V262.3H100.27V259.6H100.92V261.4H101.57V259.5H102.22V262.1H102.86V261.9H103.51V258.7H104.16V257.0H104.81V258.8H105.46V259.3H106.10V259.2H106.75V259.9H107.40V262.0H108.05V260.5H108.70V260.4H109.34V260.1H109.99V259.5H110.64V258.6H111.29V258.0H111.94V255.8H112.58V253.4H113.23V257.0H113.88V254.8H114.53V255.0H115.18V255.8H115.82V260.0H116.47V260.6H117.12V261.0H117.77V261.0H118.42V261.0H119.06V259.6H119.71V257.2H120.36V257.6H121.01V259.8H121.66V259.2H122.30V258.3H122.95V261.5H123.60V260.0H124.25V258.0H124.90V260.0H125.54V262.0H126.19V265.8H126.84V267.3H127.49V263.9H128.14V267.1H128.78V263.7H129.43V261.2H130.08V267.3H130.73V267.9H131.38V263.4H132.02V267.7H132.67V272.0H133.32V272.5H133.97V272.6H134.62V266.6H135.26V268.0H135.91V271.5H136.56V265.7H137.21V262.1H137.86V264.4H138.50V264.2H139.15V261.4H139.80V260.6H140.45V259.0H141.10V253.5H141.74V254.4H142.39V253.4H143.04V249.8H143.69V250.4H144.34V247.5H144.98V246.7H145.63V247.2H146.28V246.5H146.93V245.8H147.58V244.1H148.22V240.0H148.87V239.4H149.52V238.5H150.17V237.4H150.82V237.0H151.46V235.3H152.11V234.4H152.76V233.8H153.41V232.9H154.06V227.5H154.70V228.2H155.35V224.7H156.00V223.8H156.65V223.8H157.30V223.5H157.94V224.7H158.59V227.5H159.24V232.0H159.89V247.2H160.54V248.6H161.18V248.7H161.83V248.4H162.48V249.8H163.13V252.2H163.78V253.7H164.42V255.5H165.07V254.9H165.72V256.6H166.37V256.2H167.02V256.8H167.66V236.0H168.31V234.3H168.96V231.4H169.61V227.8H170.26V224.6H170.90V222.1H171.55V216.8H172.20V217.7H172.85V219.0H173.50V221.6H174.14V229.8H174.79V236.0H175.44V238.8H176.09V246.0H176.74V247.6H177.38V251.4H178.03V252.1H178.68V252.3H179.33V255.8H179.98V255.0H180.62V255.8H181.27V258.3H181.92V262.3H182.57V262.4H183.22V260.6H183.86V259.9H184.51V256.5H185.16V240.0H185.81V258.7H186.46V265.0H187.10V268.9H187.75V279.2H188.40V278.3H189.05V281.5H189.70V287.6H190.34V281.5H190.99V279.2H191.64V290.4H192.29V279.7H192.94V289.4H193.58V286.3H194.23V275.0H194.88V276.4H195.53V278.6H196.18V273.2H196.82V267.5H197.47V262.4H198.12V256.0H198.77V221.1H199.42V212.7H200.06V205.3H200.71V207.1H201.36V212.5H202.01V219.8H202.66V241.7H203.30V241.5H203.95V241.7H204.60V237.4H205.25V235.2H205.90V228.7H206.54V223.7H207.19V211.2H207.84V209.3H208.49V209.0H209.14V219.3H209.78V222.9H210.43V219.9H211.08V213.9H211.73V217.6H212.38V216.9H213.02V216.1H213.67V218.8H214.32V222.8H214.97V219.8H215.62V223.5H216.26V226.5H216.91V232.3H217.56V251.7H218.21V256.4H218.86V278.1H219.50V273.8H220.15V279.9H220.80V276.7H221.45V283.2H222.10V267.8H222.74V263.1H223.39V261.5H224.04V273.3H224.69V283.1H225.34V291.5H225.98V292.2H226.63V308.4H227.28V312.2H227.93V309.3H228.58V311.6H229.22V312.5H229.87V311.0H230.52V315.1H231.17V314.8H231.82V313.9H232.46V314.3H233.11V305.8H233.76V311.9H234.41V312.5H235.06V318.0H235.70V317.6H236.35V318.8H237.00V317.1H237.65V315.3H238.30V303.1H238.94V295.4H239.59V284.8H240.24V270.5H240.89V254.7H241.54V254.5H242.18V253.4H242.83V254.8H243.48V254.7H244.13V252.9H244.78V206.7H245.42V200.5H246.07V194.5H246.72V200.5H247.37V190.4H248.02V200.4H248.66V192.4H249.31V181.8H249.96V176.9H250.61V175.7H251.26V174.1H251.90V174.3H252.55V168.2H253.20V164.4H253.85V125.3H254.50V109.5H255.14V109.2H255.79V131.8H256.44V146.9H257.09V142.1H257.74V138.2H258.38V139.0H259.03V136.7H259.68V136.8H260.33V134.1H260.98V140.7H261.62V138.3H262.27V159.9H262.92V161.4H263.57V146.0H264.22V148.0H264.86V171.4H265.51V152.5H266.16V153.0H266.81V152.3H267.46V156.5H268.10V161.8H268.75V162.1H269.40V159.1H270.05V166.3H270.70V171.1H271.34V183.1H271.99V190.5H272.64V195.5H273.29V200.7H273.94V207.2H274.58V215.4H275.23V222.9H275.88V227.6H276.53V230.8H277.18V232.3H277.82V232.9H278.47V234.7H279.12V237.7H279.77V240.0H280.42V240.0H281.06V244.8H281.71V250.4H282.36V253.1H283.01V257.4H283.66V264.8H284.30V265.5H284.95V264.7H285.60V267.6H286.25V266.8H286.90V269.1H287.54V277.8H288.19V278.7H288.84V282.9H289.49V282.5H290.14V287.5H290.78V290.9H291.43V297.0H292.08V289.6H292.73V295.2H293.38V295.4H294.02V294.7H294.67V296.6H295.32V296.3H295.97V296.0H296.62V296.3H297.26V288.1H297.91V293.8H298.56V302.2H299.21V317.4H299.86V325.3H300.50V332.1H301.15V335.7H301.80V322.0H302.45V319.4H303.10V312.9H303.74V301.7H304.39V290.9H305.04V288.6H305.69V278.6H306.34V278.6H306.98V274.9H307.63V269.6H308.28V261.9H308.93V261.3H309.58V256.7H310.22V253.4H310.87V257.4H311.52V263.7H312.17V269.7H312.82V274.1H313.46V278.8H314.11V286.8H314.76V291.3H315.41V295.7H316.06V294.7H316.70V295.4H317.35V287.8H318.00V287.3H318.65V280.3H319.30V278.6H319.94V272.0H320.59V233.4H321.24V233.7H321.89V234.3H322.54V237.1H323.18V244.2H323.83V246.8H324.48V249.5H325.13V252.1H325.78V255.1H326.42V255.8H327.07V263.8H327.72V259.0H328.37V259.6H329.02V264.5H329.66V267.4H330.31V270.9H330.96V274.4H331.61V289.3H332.26V296.5H332.90V296.7H333.55V284.7H334.20V296.7H334.85V297.2H335.50V306.0H336.14V305.9H336.79V295.2H337.44V309.9H338.09V299.4H338.74V305.0H339.38V292.6H340.03V294.7H340.68V300.7H341.33V289.9H341.98V298.0H342.62V297.4H343.27V292.8H343.92V286.8H344.57V285.2H345.22V286.2H345.86V286.8H346.51V283.6H347.16V283.7H347.81V277.3H348.46V283.5H349.10V272.6H349.75V266.0H350.40V266.6H351.05V258.5H351.70V227.8H352.34V228.9H352.99V228.1H353.64V231.5H354.29V234.4H354.94V233.7H355.58V228.7H356.23V227.9H356.88V230.7H357.53V234.5H358.18V248.2H358.82V248.2H359.47V245.5H360.12V240.0H360.77V252.3H361.42V262.9H362.06V269.5H362.71V273.0H363.36V278.3H364.01V282.7H364.66V278.4H365.30V280.0H365.95V282.4H366.60V285.0H367.25V279.5H367.90V275.5H368.54V281.9H369.19V279.7H369.84V283.9H370.49V285.7H371.14V296.8H371.78V295.9H372.43V298.7H373.08V302.2H373.73V303.5H374.38V289.6H375.02V297.1H375.67V290.4H376.32V286.1H376.97V281.0H377.62V272.2H378.26V264.8H378.91V268.3H379.56V261.3H380.21V257.7H380.86V224.1H381.50V212.4H382.15V211.3H382.80V218.2H383.45V218.2H384.10V221.8H384.74V219.2H385.39V228.5H386.04V230.3H386.69V226.6H387.34V217.0H387.98V211.8H388.63V207.5H389.28V188.3H389.93V187.4H390.58V184.9H391.22V183.3H391.87V178.4H392.52V179.3H393.17V187.0H393.82V187.8H394.46V184.1H395.11V179.4H395.76V176.2H396.41V169.9H397.06V166.5H397.70V163.4H398.35V163.6H399.00V180.1H399.65V167.3H400.30V174.9H400.94V185.8H401.59V193.9H402.24V182.0H402.89V178.9H403.54V175.5H404.18V175.8H404.83V177.2H405.48V192.4H406.13V195.9H406.78V204.5H407.42V204.3H408.07V210.3H408.72V218.0H409.37V224.4H410.02V226.8H410.66V232.8H411.31V238.6H411.96V264.2H412.61V267.8H413.26V274.1H413.90V278.7H414.55V281.0H415.20V297.1H415.85V301.5H416.50V304.2H417.14V303.9H417.79V303.2H418.44V295.4H419.09V302.5H419.74V304.3H420.38V301.6H421.03V304.1H421.68V299.2H422.33V298.5H422.98V289.8H423.62V296.6H424.27V286.0H424.92V292.2H425.57V294.6H426.22V292.4H426.86V289.0H427.51V285.7H428.16V284.4H428.81V287.6H429.46V285.0H430.10V277.6H430.75V270.8H431.40V265.5H432.05V259.2H432.70V253.0H433.34V248.5H433.99V237.6H434.64V233.3H435.29V231.0H435.94V222.8H436.58V218.0H437.23V213.4H437.88V213.2H438.53V215.9H439.18V220.2H439.82V214.2H440.47V208.7H441.12V208.6H441.77V211.9H442.42V217.6H443.06V218.7H443.71V214.4H444.36V213.5H445.01V216.9H445.66V215.5H446.30V221.4H446.95V227.0H447.60V232.4H448.25V236.3H448.90V257.0H449.54V262.2H450.19V269.9H450.84V277.5H451.49V284.2H452.14V278.7H452.78V294.4H453.43V291.8H454.08V305.6H454.73V312.3H455.38V309.8H456.02V323.8H456.67V311.5H457.32V333.5H457.97V343.6H458.62V345.4H459.26V345.2H459.91V339.5H460.56V326.2H461.21V348.9H461.86V350.7H462.50V358.7H463.15V336.6H463.80V366.3H464.45V367.0H465.10V366.9H465.74V363.4H466.39V339.8H467.04V335.2H467.69V338.0H468.34V322.9H468.98V327.1H469.63V351.8H470.28V357.2H470.93V336.9H471.58V350.0H472.22V364.3H472.87V354.0H473.52V361.9H474.17V360.3H474.82V356.6H475.46V353.4H476.11V349.2H476.76V345.1H477.41V344.4H478.06V323.2H478.70V343.8H479.35V318.6H480.00V336.8H480.65V332.3H481.30V317.5H481.94V313.2H482.59V317.6H483.24V306.5H483.89V240.0H484.54V240.0H485.18V240.0H485.83V240.0H486.48V240.0H487.13V240.0H487.78V254.2H488.42V255.6H489.07V253.7H489.72V251.8H490.37V240.0H491.02V230.9H491.66V221.2H492.31V215.5H492.96V202.9H493.61V203.4H494.26V203.8H494.90V193.3H495.55V187.9H496.20V195.4H496.85V183.7H497.50V177.3H498.14V179.9H498.79V171.4H499.44V171.6H500.09V175.4H500.74V188.6H501.38V197.6H502.03V194.5H502.68V205.2H503.33V209.7H503.98V266.0H504.62V264.5H505.27V260.5H505.92V260.9H506.57V261.6H507.22V231.5H507.86V231.3H508.51V231.4H509.16V238.1H509.81V253.9H510.46V255.5H511.10V259.3H511.75V260.8H512.40V264.3H513.05V270.9H513.70V275.2H514.34V275.9H514.99V275.7H515.64V271.3H516.29V274.9H516.94V274.7H517.58V272.1H518.23V275.8H518.88V276.3H519.53V276.0H520.18V269.3H520.82V267.2H521.47V263.8H522.12V267.7H522.77V268.7H523.42V281.0H524.06V285.3H524.71V289.3H525.36V289.6H526.01V286.4H526.66V290.4H527.30V291.2H527.95V290.0H528.60V281.5H529.25V273.5H529.90V265.9H530.54V260.1H531.19V259.0H531.84V260.9H532.49V257.7H533.14V260.4H533.78V258.4H534.43V258.2H535.08V256.5H535.73V258.2H536.38V256.4H537.02V253.7H537.67V252.2H538.32V254.2H538.97V257.9H539.62V259.5H540.26V259.2H540.91V255.2H541.56V258.9H542.21V258.5H542.86V247.4H543.50V240.0H544.15V241.0H544.80V242.0H545.45V243.9H546.10V245.3H546.74V247.5H547.39V248.7H548.04V250.8H548.69V250.7H549.34V250.7H549.98V250.6H550.63V249.6H551.28V253.8H551.93V253.9H552.58V259.6H553.22V258.9H553.87V262.9H554.52V263.3H555.17V260.7H555.82V258.6H556.46V262.5H557.11V259.8H557.76V256.0H558.41V253.1H559.06V249.0H559.70V237.9H560.35V235.6H561.00V231.9H561.65V228.6H562.30V226.4H562.94V222.8H563.59V220.2H564.24V217.3H564.89V216.0H565.54V210.4H566.18V207.5H566.83V207.2H567.48V212.8H568.13V213.4H568.78V214.3H569.42V215.0H570.07V214.2H570.72V214.8H571.37V216.7H572.02V215.6H572.66V214.8H573.31V217.2H573.96V216.1H574.61V216.7H575.26V217.9H575.90V224.5H576.55V223.7H577.20V229.5H577.85V233.2H578.50V234.2H579.14V235.9H579.79V237.0H580.44V236.8H581.09V237.1H581.74V237.7H582.38V237.8H583.03V238.5H583.68V239.5H584.33V252.7H584.98V254.6H585.62V262.1H586.27V264.2H586.92V271.9H587.57V273.7H588.22V273.8H588.86V272.1H589.51V271.1H590.16V265.8H590.81V269.1H591.46V266.3H592.10V267.1H592.75V266.3H593.40V267.5H594.05V267.1H594.70V266.3H595.34V262.7H595.99V268.7H596.64V267.7H597.29V264.8H597.94V262.5H598.58V267.0H599.23V261.8H599.88V258.0H600.53V262.8H601.18V275.5H601.82V286.2H602.47V284.6H603.12V303.6H603.77V300.6H604.42V318.2H605.06V323.5H605.71V340.2H606.36V328.4H607.01V340.6H607.66V339.1H608.30V325.4H608.95V326.6H609.60V343.3H610.25V345.2H610.90V345.3H611.54V342.8H612.19V345.7H612.84V347.4H613.49V346.6H614.14V333.2H614.78V327.2H615.43V346.6H616.08V340.6H616.73V334.6H617.38V349.3H618.02V333.3H618.67V350.1H619.32V343.4H619.97V344.8H620.62V342.3H621.26V348.1H621.91V344.6H622.56V334.4H623.21V328.6H623.86V309.6H624.50V310.6H625.15V308.3H625.80V309.3H626.45V305.7H627.10V308.5H627.74V310.7H628.39V302.8H629.04V302.2H629.69V308.9H630.34V308.9H630.98V304.7H631.63V304.3H632.28V301.6H632.93V297.4H633.58V296.8H634.22V294.2H634.87V292.6H635.52V294.4H636.17V289.8H636.82V293.3H637.46V286.9H638.11V285.0H638.76V286.9H639.41V285.5H640.06V280.6H640.70V278.7H641.35V270.8H642.00V278.6H642.65V272.8H643.30V269.6H643.94V271.8H644.59V267.2H645.24V265.0H645.89V254.2H646.54V237.1H647.18V233.1H647.83V232.9H648.48V232.2H649.13V237.4H649.78V239.4H650.42V240.0H651.07V240.0H651.72V240.0H652.37V240.0H653.02V240.0H653.66V240.0H654.31V240.0H654.96V240.0H655.61V240.0H656.26V240.0H656.90V240.0H657.55V243.7H658.20V244.9H658.85V245.7H659.50V246.0H660.14V246.2H660.79V246.4H661.44V245.3H662.09V246.3H662.74V245.8H663.38V247.3H664.03V246.6H664.68V247.7H665.33V247.4H665.98V247.2H666.62V247.6H667.27V240.00Z" fill="url(#gr)"/>
<path d="M-6.65,240.00V248.6H-6.00V248.7H-5.35V248.1H-4.70V248.8H-4.06V248.3H-3.41V248.6H-2.76V248.8H-2.11V248.4H-1.46V248.8H-0.82V248.5H-0.17V248.8H0.48V248.8H1.13V248.4H1.78V247.0H2.42V247.8H3.07V247.4H3.72V246.6H4.37V245.4H5.02V246.2H5.66V246.1H6.31V244.7H6.96V246.0H7.61V244.9H8.26V245.6H8.90V245.7H9.55V245.7H10.20V245.7H10.85V245.0H11.50V245.9H12.14V245.6H12.79V245.6H13.44V246.1H14.09V246.1H14.74V246.7H15.38V247.0H16.03V247.2H16.68V246.6H17.33V247.0H17.98V247.1H18.62V246.7H19.27V247.0H19.92V247.5H20.57V246.9H21.22V247.5H21.86V248.2H22.51V247.8H23.16V247.9H23.81V247.1H24.46V248.1H25.10V249.2H25.75V247.1H26.40V249.2H27.05V249.0H27.70V247.9H28.34V248.5H28.99V247.8H29.64V247.7H30.29V247.2H30.94V247.7H31.58V249.0H32.23V248.5H32.88V250.1H33.53V249.3H34.18V249.6H34.82V249.7H35.47V249.8H36.12V248.5H36.77V248.1H37.42V249.9H38.06V249.4H38.71V250.3H39.36V249.3H40.01V249.4H40.66V247.5H41.30V248.5H41.95V250.1H42.60V250.1H43.25V249.4H43.90V250.3H44.54V249.9H45.19V249.9H45.84V249.5H46.49V249.1H47.14V247.7H47.78V248.3H48.43V247.9H49.08V247.4H49.73V245.9H50.38V246.6H51.02V245.9H51.67V245.2H52.32V244.1H52.97V243.8H53.62V243.3H54.26V243.4H54.91V242.8H55.56V242.4H56.21V241.6H56.86V241.2H57.50V241.1H58.15V239.5H58.80V238.7H59.45V237.9H60.10V237.2H60.74V236.4H61.39V235.2H62.04V234.2H62.69V233.3H63.34V232.4H63.98V232.0H64.63V232.7H65.28V231.4H65.93V230.8H66.58V230.9H67.22V231.1H67.87V230.5H68.52V232.9H69.17V233.1H69.82V234.2H70.46V234.8H71.11V235.0H71.76V236.3H72.41V237.8H73.06V241.3H73.70V241.9H74.35V242.3H75.00V242.6H75.65V242.9H76.30V243.4H76.94V244.1H77.59V244.8H78.24V245.4H78.89V246.3H79.54V247.2H80.18V248.3H80.83V247.7H81.48V249.9H82.13V251.9H82.78V253.1H83.42V254.3H84.07V256.2H84.72V258.5H85.37V257.3H86.02V257.2H86.66V262.6H87.31V263.2H87.96V264.2H88.61V264.1H89.26V263.8H89.90V263.7H90.55V259.7H91.20V262.2H91.85V261.5H92.50V256.5H93.14V259.7H93.79V260.2H94.44V258.9H95.09V259.6H95.74V258.7H96.38V255.7H97.03V257.5H97.68V259.4H98.33V261.5H98.98V261.6H99.62V262.3H100.27V259.6H100.92V261.4H101.57V259.5H102.22V262.1H102.86V261.9H103.51V258.7H104.16V257.0H104.81V258.8H105.46V259.3H106.10V259.2H106.75V259.9H107.40V262.0H108.05V260.5H108.70V260.4H109.34V260.1H109.99V259.5H110.64V258.6H111.29V258.0H111.94V255.8H112.58V253.4H113.23V257.0H113.88V254.8H114.53V255.0H115.18V255.8H115.82V260.0H116.47V260.6H117.12V261.0H117.77V261.0H118.42V261.0H119.06V259.6H119.71V257.2H120.36V257.6H121.01V259.8H121.66V259.2H122.30V258.3H122.95V261.5H123.60V260.0H124.25V258.0H124.90V260.0H125.54V262.0H126.19V265.8H126.84V267.3H127.49V263.9H128.14V267.1H128.78V263.7H129.43V261.2H130.08V267.3H130.73V267.9H131.38V263.4H132.02V267.7H132.67V272.0H133.32V272.5H133.97V272.6H134.62V266.6H135.26V268.0H135.91V271.5H136.56V265.7H137.21V262.1H137.86V264.4H138.50V264.2H139.15V261.4H139.80V260.6H140.45V259.0H141.10V253.5H141.74V254.4H142.39V253.4H143.04V249.8H143.69V250.4H144.34V247.5H144.98V246.7H145.63V247.2H146.28V246.5H146.93V245.8H147.58V244.1H148.22V240.0H148.87V239.4H149.52V238.5H150.17V237.4H150.82V237.0H151.46V235.3H152.11V234.4H152.76V233.8H153.41V232.9H154.06V227.5H154.70V228.2H155.35V224.7H156.00V223.8H156.65V223.8H157.30V223.5H157.94V224.7H158.59V227.5H159.24V232.0H159.89V247.2H160.54V248.6H161.18V248.7H161.83V248.4H162.48V249.8H163.13V252.2H163.78V253.7H164.42V255.5H165.07V254.9H165.72V256.6H166.37V256.2H167.02V256.8H167.66V236.0H168.31V234.3H168.96V231.4H169.61V227.8H170.26V224.6H170.90V222.1H171.55V216.8H172.20V217.7H172.85V219.0H173.50V221.6H174.14V229.8H174.79V236.0H175.44V238.8H176.09V246.0H176.74V247.6H177.38V251.4H178.03V252.1H178.68V252.3H179.33V255.8H179.98V255.0H180.62V255.8H181.27V258.3H181.92V262.3H182.57V262.4H183.22V260.6H183.86V259.9H184.51V256.5H185.16V240.0H185.81V258.7H186.46V265.0H187.10V268.9H187.75V279.2H188.40V278.3H189.05V281.5H189.70V287.6H190.34V281.5H190.99V279.2H191.64V290.4H192.29V279.7H192.94V289.4H193.58V286.3H194.23V275.0H194.88V276.4H195.53V278.6H196.18V273.2H196.82V267.5H197.47V262.4H198.12V256.0H198.77V221.1H199.42V212.7H200.06V205.3H200.71V207.1H201.36V212.5H202.01V219.8H202.66V241.7H203.30V241.5H203.95V241.7H204.60V237.4H205.25V235.2H205.90V228.7H206.54V223.7H207.19V211.2H207.84V209.3H208.49V209.0H209.14V219.3H209.78V222.9H210.43V219.9H211.08V213.9H211.73V217.6H212.38V216.9H213.02V216.1H213.67V218.8H214.32V222.8H214.97V219.8H215.62V223.5H216.26V226.5H216.91V232.3H217.56V251.7H218.21V256.4H218.86V278.1H219.50V273.8H220.15V279.9H220.80V276.7H221.45V283.2H222.10V267.8H222.74V263.1H223.39V261.5H224.04V273.3H224.69V283.1H225.34V291.5H225.98V292.2H226.63V308.4H227.28V312.2H227.93V309.3H228.58V311.6H229.22V312.5H229.87V311.0H230.52V315.1H231.17V314.8H231.82V313.9H232.46V314.3H233.11V305.8H233.76V311.9H234.41V312.5H235.06V318.0H235.70V317.6H236.35V318.8H237.00V317.1H237.65V315.3H238.30V303.1H238.94V295.4H239.59V284.8H240.24V270.5H240.89V254.7H241.54V254.5H242.18V253.4H242.83V254.8H243.48V254.7H244.13V252.9H244.78V206.7H245.42V200.5H246.07V194.5H246.72V200.5H247.37V190.4H248.02V200.4H248.66V192.4H249.31V181.8H249.96V176.9H250.61V175.7H251.26V174.1H251.90V174.3H252.55V168.2H253.20V164.4H253.85V125.3H254.50V109.5H255.14V109.2H255.79V131.8H256.44V146.9H257.09V142.1H257.74V138.2H258.38V139.0H259.03V136.7H259.68V136.8H260.33V134.1H260.98V140.7H261.62V138.3H262.27V159.9H262.92V161.4H263.57V146.0H264.22V148.0H264.86V171.4H265.51V152.5H266.16V153.0H266.81V152.3H267.46V156.5H268.10V161.8H268.75V162.1H269.40V159.1H270.05V166.3H270.70V171.1H271.34V183.1H271.99V190.5H272.64V195.5H273.29V200.7H273.94V207.2H274.58V215.4H275.23V222.9H275.88V227.6H276.53V230.8H277.18V232.3H277.82V232.9H278.47V234.7H279.12V237.7H279.77V240.0H280.42V240.0H281.06V244.8H281.71V250.4H282.36V253.1H283.01V257.4H283.66V264.8H284.30V265.5H284.95V264.7H285.60V267.6H286.25V266.8H286.90V269.1H287.54V277.8H288.19V278.7H288.84V282.9H289.49V282.5H290.14V287.5H290.78V290.9H291.43V297.0H292.08V289.6H292.73V295.2H293.38V295.4H294.02V294.7H294.67V296.6H295.32V296.3H295.97V296.0H296.62V296.3H297.26V288.1H297.91V293.8H298.56V302.2H299.21V317.4H299.86V325.3H300.50V332.1H301.15V335.7H301.80V322.0H302.45V319.4H303.10V312.9H303.74V301.7H304.39V290.9H305.04V288.6H305.69V278.6H306.34V278.6H306.98V274.9H307.63V269.6H308.28V261.9H308.93V261.3H309.58V256.7H310.22V253.4H310.87V257.4H311.52V263.7H312.17V269.7H312.82V274.1H313.46V278.8H314.11V286.8H314.76V291.3H315.41V295.7H316.06V294.7H316.70V295.4H317.35V287.8H318.00V287.3H318.65V280.3H319.30V278.6H319.94V272.0H320.59V233.4H321.24V233.7H321.89V234.3H322.54V237.1H323.18V244.2H323.83V246.8H324.48V249.5H325.13V252.1H325.78V255.1H326.42V255.8H327.07V263.8H327.72V259.0H328.37V259.6H329.02V264.5H329.66V267.4H330.31V270.9H330.96V274.4H331.61V289.3H332.26V296.5H332.90V296.7H333.55V284.7H334.20V296.7H334.85V297.2H335.50V306.0H336.14V305.9H336.79V295.2H337.44V309.9H338.09V299.4H338.74V305.0H339.38V292.6H340.03V294.7H340.68V300.7H341.33V289.9H341.98V298.0H342.62V297.4H343.27V292.8H343.92V286.8H344.57V285.2H345.22V286.2H345.86V286.8H346.51V283.6H347.16V283.7H347.81V277.3H348.46V283.5H349.10V272.6H349.75V266.0H350.40V266.6H351.05V258.5H351.70V227.8H352.34V228.9H352.99V228.1H353.64V231.5H354.29V234.4H354.94V233.7H355.58V228.7H356.23V227.9H356.88V230.7H357.53V234.5H358.18V248.2H358.82V248.2H359.47V245.5H360.12V240.0H360.77V252.3H361.42V262.9H362.06V269.5H362.71V273.0H363.36V278.3H364.01V282.7H364.66V278.4H365.30V280.0H365.95V282.4H366.60V285.0H367.25V279.5H367.90V275.5H368.54V281.9H369.19V279.7H369.84V283.9H370.49V285.7H371.14V296.8H371.78V295.9H372.43V298.7H373.08V302.2H373.73V303.5H374.38V289.6H375.02V297.1H375.67V290.4H376.32V286.1H376.97V281.0H377.62V272.2H378.26V264.8H378.91V268.3H379.56V261.3H380.21V257.7H380.86V224.1H381.50V212.4H382.15V211.3H382.80V218.2H383.45V218.2H384.10V221.8H384.74V219.2H385.39V228.5H386.04V230.3H386.69V226.6H387.34V217.0H387.98V211.8H388.63V207.5H389.28V188.3H389.93V187.4H390.58V184.9H391.22V183.3H391.87V178.4H392.52V179.3H393.17V187.0H393.82V187.8H394.46V184.1H395.11V179.4H395.76V176.2H396.41V169.9H397.06V166.5H397.70V163.4H398.35V163.6H399.00V180.1H399.65V167.3H400.30V174.9H400.94V185.8H401.59V193.9H402.24V182.0H402.89V178.9H403.54V175.5H404.18V175.8H404.83V177.2H405.48V192.4H406.13V195.9H406.78V204.5H407.42V204.3H408.07V210.3H408.72V218.0H409.37V224.4H410.02V226.8H410.66V232.8H411.31V238.6H411.96V264.2H412.61V267.8H413.26V274.1H413.90V278.7H414.55V281.0H415.20V297.1H415.85V301.5H416.50V304.2H417.14V303.9H417.79V303.2H418.44V295.4H419.09V302.5H419.74V304.3H420.38V301.6H421.03V304.1H421.68V299.2H422.33V298.5H422.98V289.8H423.62V296.6H424.27V286.0H424.92V292.2H425.57V294.6H426.22V292.4H426.86V289.0H427.51V285.7H428.16V284.4H428.81V287.6H429.46V285.0H430.10V277.6H430.75V270.8H431.40V265.5H432.05V259.2H432.70V253.0H433.34V248.5H433.99V237.6H434.64V233.3H435.29V231.0H435.94V222.8H436.58V218.0H437.23V213.4H437.88V213.2H438.53V215.9H439.18V220.2H439.82V214.2H440.47V208.7H441.12V208.6H441.77V211.9H442.42V217.6H443.06V218.7H443.71V214.4H444.36V213.5H445.01V216.9H445.66V215.5H446.30V221.4H446.95V227.0H447.60V232.4H448.25V236.3H448.90V257.0H449.54V262.2H450.19V269.9H450.84V277.5H451.49V284.2H452.14V278.7H452.78V294.4H453.43V291.8H454.08V305.6H454.73V312.3H455.38V309.8H456.02V323.8H456.67V311.5H457.32V333.5H457.97V343.6H458.62V345.4H459.26V345.2H459.91V339.5H460.56V326.2H461.21V348.9H461.86V350.7H462.50V358.7H463.15V336.6H463.80V366.3H464.45V367.0H465.10V366.9H465.74V363.4H466.39V339.8H467.04V335.2H467.69V338.0H468.34V322.9H468.98V327.1H469.63V351.8H470.28V357.2H470.93V336.9H471.58V350.0H472.22V364.3H472.87V354.0H473.52V361.9H474.17V360.3H474.82V356.6H475.46V353.4H476.11V349.2H476.76V345.1H477.41V344.4H478.06V323.2H478.70V343.8H479.35V318.6H480.00V336.8H480.65V332.3H481.30V317.5H481.94V313.2H482.59V317.6H483.24V306.5H483.89V240.0H484.54V240.0H485.18V240.0H485.83V240.0H486.48V240.0H487.13V240.0H487.78V254.2H488.42V255.6H489.07V253.7H489.72V251.8H490.37V240.0H491.02V230.9H491.66V221.2H492.31V215.5H492.96V202.9H493.61V203.4H494.26V203.8H494.90V193.3H495.55V187.9H496.20V195.4H496.85V183.7H497.50V177.3H498.14V179.9H498.79V171.4H499.44V171.6H500.09V175.4H500.74V188.6H501.38V197.6H502.03V194.5H502.68V205.2H503.33V209.7H503.98V266.0H504.62V264.5H505.27V260.5H505.92V260.9H506.57V261.6H507.22V231.5H507.86V231.3H508.51V231.4H509.16V238.1H509.81V253.9H510.46V255.5H511.10V259.3H511.75V260.8H512.40V264.3H513.05V270.9H513.70V275.2H514.34V275.9H514.99V275.7H515.64V271.3H516.29V274.9H516.94V274.7H517.58V272.1H518.23V275.8H518.88V276.3H519.53V276.0H520.18V269.3H520.82V267.2H521.47V263.8H522.12V267.7H522.77V268.7H523.42V281.0H524.06V285.3H524.71V289.3H525.36V289.6H526.01V286.4H526.66V290.4H527.30V291.2H527.95V290.0H528.60V281.5H529.25V273.5H529.90V265.9H530.54V260.1H531.19V259.0H531.84V260.9H532.49V257.7H533.14V260.4H533.78V258.4H534.43V258.2H535.08V256.5H535.73V258.2H536.38V256.4H537.02V253.7H537.67V252.2H538.32V254.2H538.97V257.9H539.62V259.5H540.26V259.2H540.91V255.2H541.56V258.9H542.21V258.5H542.86V247.4H543.50V240.0H544.15V241.0H544.80V242.0H545.45V243.9H546.10V245.3H546.74V247.5H547.39V248.7H548.04V250.8H548.69V250.7H549.34V250.7H549.98V250.6H550.63V249.6H551.28V253.8H551.93V253.9H552.58V259.6H553.22V258.9H553.87V262.9H554.52V263.3H555.17V260.7H555.82V258.6H556.46V262.5H557.11V259.8H557.76V256.0H558.41V253.1H559.06V249.0H559.70V237.9H560.35V235.6H561.00V231.9H561.65V228.6H562.30V226.4H562.94V222.8H563.59V220.2H564.24V217.3H564.89V216.0H565.54V210.4H566.18V207.5H566.83V207.2H567.48V212.8H568.13V213.4H568.78V214.3H569.42V215.0H570.07V214.2H570.72V214.8H571.37V216.7H572.02V215.6H572.66V214.8H573.31V217.2H573.96V216.1H574.61V216.7H575.26V217.9H575.90V224.5H576.55V223.7H577.20V229.5H577.85V233.2H578.50V234.2H579.14V235.9H579.79V237.0H580.44V236.8H581.09V237.1H581.74V237.7H582.38V237.8H583.03V238.5H583.68V239.5H584.33V252.7H584.98V254.6H585.62V262.1H586.27V264.2H586.92V271.9H587.57V273.7H588.22V273.8H588.86V272.1H589.51V271.1H590.16V265.8H590.81V269.1H591.46V266.3H592.10V267.1H592.75V266.3H593.40V267.5H594.05V267.1H594.70V266.3H595.34V262.7H595.99V268.7H596.64V267.7H597.29V264.8H597.94V262.5H598.58V267.0H599.23V261.8H599.88V258.0H600.53V262.8H601.18V275.5H601.82V286.2H602.47V284.6H603.12V303.6H603.77V300.6H604.42V318.2H605.06V323.5H605.71V340.2H606.36V328.4H607.01V340.6H607.66V339.1H608.30V325.4H608.95V326.6H609.60V343.3H610.25V345.2H610.90V345.3H611.54V342.8H612.19V345.7H612.84V347.4H613.49V346.6H614.14V333.2H614.78V327.2H615.43V346.6H616.08V340.6H616.73V334.6H617.38V349.3H618.02V333.3H618.67V350.1H619.32V343.4H619.97V344.8H620.62V342.3H621.26V348.1H621.91V344.6H622.56V334.4H623.21V328.6H623.86V309.6H624.50V310.6H625.15V308.3H625.80V309.3H626.45V305.7H627.10V308.5H627.74V310.7H628.39V302.8H629.04V302.2H629.69V308.9H630.34V308.9H630.98V304.7H631.63V304.3H632.28V301.6H632.93V297.4H633.58V296.8H634.22V294.2H634.87V292.6H635.52V294.4H636.17V289.8H636.82V293.3H637.46V286.9H638.11V285.0H638.76V286.9H639.41V285.5H640.06V280.6H640.70V278.7H641.35V270.8H642.00V278.6H642.65V272.8H643.30V269.6H643.94V271.8H644.59V267.2H645.24V265.0H645.89V254.2H646.54V237.1H647.18V233.1H647.83V232.9H648.48V232.2H649.13V237.4H649.78V239.4H650.42V240.0H651.07V240.0H651.72V240.0H652.37V240.0H653.02V240.0H653.66V240.0H654.31V240.0H654.96V240.0H655.61V240.0H656.26V240.0H656.90V240.0H657.55V243.7H658.20V244.9H658.85V245.7H659.50V246.0H660.14V246.2H660.79V246.4H661.44V245.3H662.09V246.3H662.74V245.8H663.38V247.3H664.03V246.6H664.68V247.7H665.33V247.4H665.98V247.2H666.62V247.6H667.27V240.00Z" fill="url(#st)"/>
<g clip-path="url(#hc)" stroke="#b52c6c" stroke-opacity="0.75" stroke-width="1.1" stroke-dasharray="2 2.02" stroke-dashoffset="-1.3"><line x1="-8" x2="668" y1="255.8" y2="255.8"/><line x1="-8" x2="668" y1="267.3" y2="267.3"/></g>
<path d="M660.5,257.6c-1.6,0-2.4,0.7-2.4,1.6c0,2,2.6,1.2,2.6,2.8c0,0.8-0.9,1.4-2.4,1.2" fill="none" stroke="#1d4fd6" stroke-width="1.3"/>
<line x1="480" x2="668" y1="380.7" y2="380.7" stroke="#8aa6e6" stroke-width="1.1" stroke-dasharray="2 2.02"/>

</svg>
<div class="title"><span style="position:relative;left:1.2px">t:</span> Bitcoin + Ethereum Exchange Net Position Change</div>

<div class="lg on" style="left:-2px;top:65px">e [USD]</div>
<div class="lg" style="left:0.1px;top:73.6px;transform:scaleX(1.018)">ange Inflow Volume (Total) - All Exchanges [USD]</div>
<div class="lg on" style="left:-3px;top:81.7px">ange Inflows [USD] [USD]</div>

<div class="dot" style="left:178.3px;top:67.3px;background:#f08a1c"></div>
<div class="lg" style="left:186px;top:65px">BTC: Exchange Inflow Volume (Total) - All Exchanges [USD]</div>
<div class="dot" style="left:178.3px;top:75.9px;background:#3f66d6"></div>
<div class="lg" style="left:186px;top:73.6px">ETH: Exchange Outflow Volume (Total) - All Exchanges [USD]</div>
<div class="dot" style="left:178.3px;top:84px;background:#e0435e"></div>
<div class="lg on" style="left:186px;top:81.7px">Net Exchange Outflows [USD] [USD]</div>

<div class="dot" style="left:397px;top:67.3px;background:#f08a1c"></div>
<div class="lg" style="left:404px;top:65px">BTC: Exchange Outflow Volume (Total) - All Exchanges [USD]</div>
<div class="dot" style="left:397px;top:75.9px;background:#f08a1c"></div>
<div class="lg" style="left:404px;top:73.6px;transform:scaleX(0.985)">BTC + ETH Exchange Net Position Change [USD] [USD]</div>

<div class="xl" style="left:-39.3px">Apr '20</div><div class="xl" style="left:17.5px">Jul '20</div><div class="xl" style="left:77px">Oct '20</div><div class="xl" style="left:136px">Jan '21</div><div class="xl" style="left:194px">Apr '21</div><div class="xl" style="left:252.5px">Jul '21</div><div class="xl" style="left:312px">Oct '21</div><div class="xl" style="left:371px">Jan '22</div><div class="xl" style="left:429px">Apr '22</div><div class="xl" style="left:488px">Jul '22</div><div class="xl" style="left:547px">Oct '22</div><div class="xl" style="left:606.5px">Jan '23</div>
<div class="note" style="top:355.2px"><span>BTC + ETH Net Exchange</span></div>
<div class="note" style="top:366.8px"><span>Outflows of -$1.0B to -$1.8B</span></div>
<div class="foot">t. All Rights Reserved.</div>
</div></div>
</body></html>
